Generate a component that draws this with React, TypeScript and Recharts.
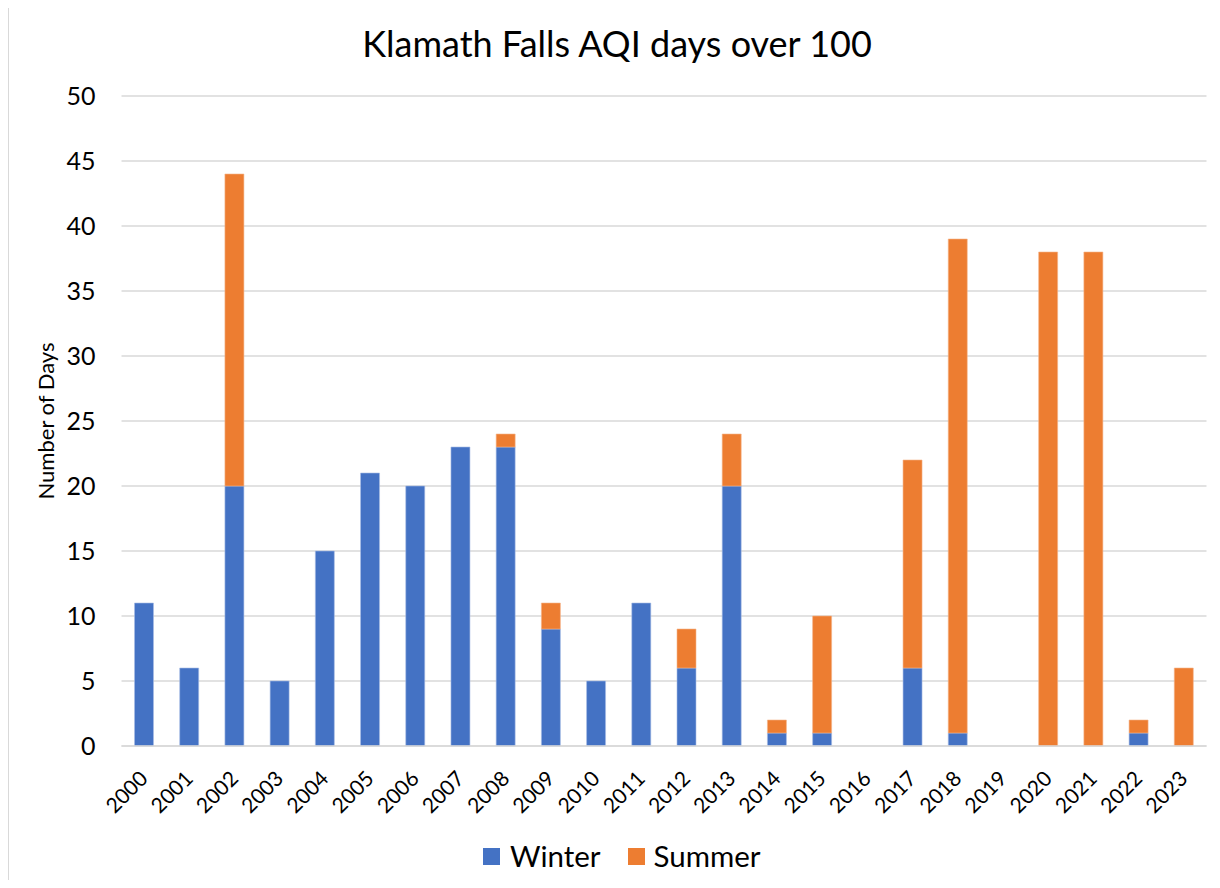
import { BarChart, Bar, XAxis, YAxis, CartesianGrid } from "recharts";

const years = [
  "2000", "2001", "2002", "2003", "2004", "2005", "2006", "2007", "2008", "2009", "2010", "2011",
  "2012", "2013", "2014", "2015", "2016", "2017", "2018", "2019", "2020", "2021", "2022", "2023",
];
const winter = [11, 6, 20, 5, 15, 21, 20, 23, 23, 9, 5, 11, 6, 20, 1, 1, 0, 6, 1, 0, 0, 0, 1, 0];
const summer = [0, 0, 24, 0, 0, 0, 0, 0, 1, 2, 0, 0, 3, 4, 1, 9, 0, 16, 38, 0, 38, 38, 1, 6];
const yTicks = [0, 5, 10, 15, 20, 25, 30, 35, 40, 45, 50];

const data = years.map((year, i) => ({ year, winter: winter[i], summer: summer[i] }));

const FONT = "Lato, 'Open Sans', sans-serif";
const BLUE = "#4472C4";
const ORANGE = "#ED7D31";

function YearTick({ x, y, payload }: any) {
  return (
    <g transform={`translate(${x + 5},${y + 26})`}>
      <text textAnchor="end" transform="rotate(-45)" fontSize={21} fill="#000" fontFamily={FONT}>
        {payload.value}
      </text>
    </g>
  );
}

export default function App() {
  return (
    <div style={{ position: "relative", width: 1212, height: 872, fontFamily: FONT }}>
      <div
        style={{
          position: "absolute",
          left: 0,
          top: -3,
          width: 1212,
          height: 883,
          border: "1.5px solid #d9d9d9",
          boxSizing: "border-box",
        }}
      />
      <div
        style={{
          position: "absolute",
          left: 0,
          width: 1218,
          top: 14,
          textAlign: "center",
          fontSize: 36,
          lineHeight: "42px",
          color: "#000",
        }}
      >
        Klamath Falls AQI days over 100
      </div>
      <div style={{ position: "absolute", left: 38, top: 413, width: 0, height: 0 }}>
        <div
          style={{
            position: "absolute",
            transform: "translate(-50%, -50%) rotate(-90deg)",
            whiteSpace: "nowrap",
            fontSize: 22,
            lineHeight: "24px",
            color: "#000",
          }}
        >
          Number of Days
        </div>
      </div>
      <BarChart
        width={1212}
        height={872}
        data={data}
        margin={{ top: 88, right: 13.5, left: 0, bottom: 74 }}
        style={{ position: "absolute", left: 0, top: 0 }}
      >
        <CartesianGrid vertical={false} stroke="#d9d9d9" strokeWidth={1.5} />
        <XAxis
          dataKey="year"
          interval={0}
          height={60}
          tickLine={false}
          axisLine={{ stroke: "#d9d9d9", strokeWidth: 1.5 }}
          tick={<YearTick />}
        />
        <YAxis
          width={113.5}
          domain={[0, 50]}
          ticks={yTicks}
          tickLine={false}
          axisLine={false}
          tickMargin={20}
          tick={{ fontSize: 25, fill: "#000", fontFamily: FONT }}
        />
        <Bar
          dataKey="winter"
          stackId="a"
          fill={BLUE}
          stroke="#a9bde6"
          strokeWidth={0.6}
          barSize={19}
          isAnimationActive={false}
        />
        <Bar
          dataKey="summer"
          stackId="a"
          fill={ORANGE}
          stroke="#f5b58b"
          strokeWidth={0.6}
          barSize={19}
          isAnimationActive={false}
        />
      </BarChart>
      <div
        style={{
          position: "absolute",
          left: 475,
          top: 831,
          height: 34,
          display: "flex",
          alignItems: "center",
          fontSize: 29.5,
          lineHeight: "34px",
          color: "#000",
        }}
      >
        <span style={{ width: 17, height: 17, background: BLUE, display: "inline-block", marginRight: 10 }} />
        <span style={{ marginRight: 27 }}>Winter</span>
        <span style={{ width: 17, height: 17, background: ORANGE, display: "inline-block", marginRight: 9 }} />
        <span>Summer</span>
      </div>
    </div>
  );
}
